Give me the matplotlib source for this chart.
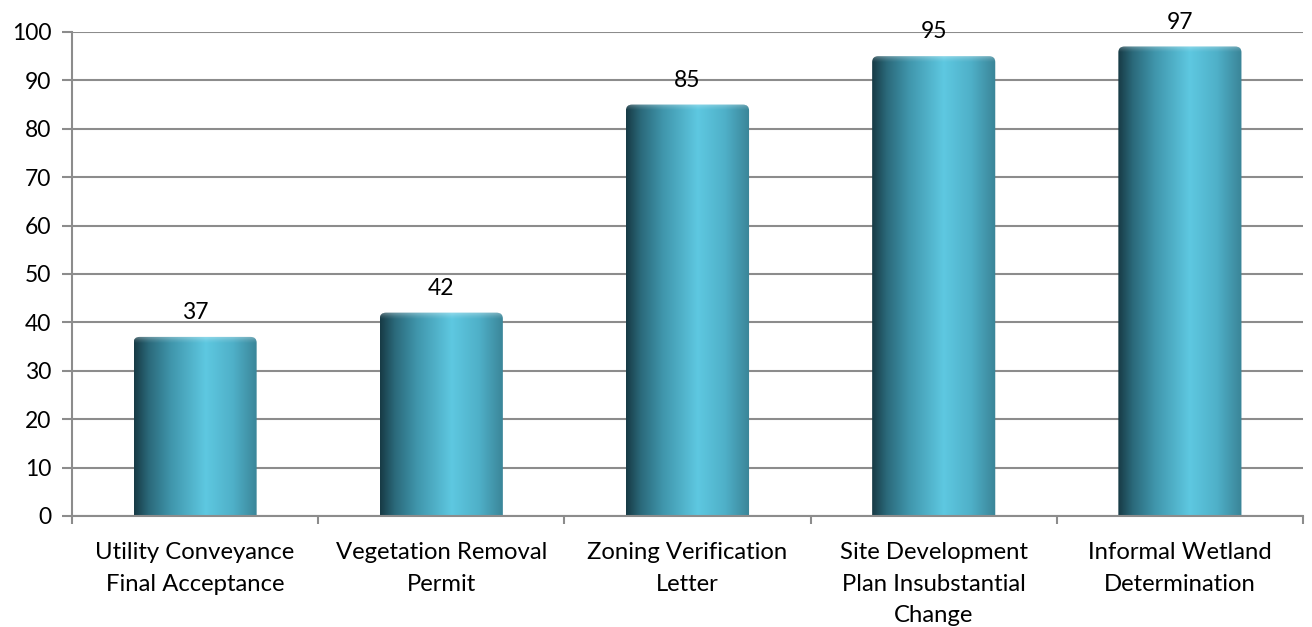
import numpy as np
import matplotlib
matplotlib.use("Agg")
import matplotlib.pyplot as plt
from matplotlib.colors import LinearSegmentedColormap
from matplotlib.patches import FancyBboxPatch

categories = ["Utility Conveyance\nFinal Acceptance", "Vegetation Removal\nPermit",
              "Zoning Verification\nLetter", "Site Development\nPlan Insubstantial\nChange",
              "Informal Wetland\nDetermination"]
values = [37, 42, 85, 95, 97]
yticks = [0, 10, 20, 30, 40, 50, 60, 70, 80, 90, 100]

plt.rcParams['font.family'] = ['Lato', 'DejaVu Sans']
W, H = 1312, 627
fig = plt.figure(figsize=(W / 100, H / 100), dpi=100)
ax = fig.add_axes([72 / W, (H - 516) / H, (1303 - 72) / W, (516 - 32) / H])

grid_c = '#8c8c8c'
x = np.arange(len(values))
ax.set_xlim(-0.5, len(values) - 0.5)
ax.set_ylim(0, 100)
ax.set_yticks(yticks)
ax.yaxis.grid(True, color=grid_c, linewidth=1.5)
ax.set_axisbelow(True)
for s in ['top', 'right']:
    ax.spines[s].set_visible(False)
for s in ['left', 'bottom']:
    ax.spines[s].set_color(grid_c)
    ax.spines[s].set_linewidth(1.5)
ax.tick_params(axis='y', colors=grid_c, length=7, width=1.5, labelsize=16.5, labelcolor='black', pad=8)
ax.set_xticks(np.arange(-0.5, len(values) + 0.5, 1))
ax.set_xticklabels([])
ax.tick_params(axis='x', colors=grid_c, length=6, width=1.5)
ax.set_xticks(x, minor=True)
ax.set_xticklabels(categories, minor=True, fontsize=17.2, linespacing=1.62)
ax.tick_params(axis='x', which='minor', length=0, pad=19, labelcolor='black')

cmap = LinearSegmentedColormap.from_list('cyl', [
    (0.0, '#173a45'), (0.12, '#2b6a7b'), (0.3, '#4096ac'), (0.58, '#5ec8e1'),
    (0.8, '#4fb0c8'), (1.0, '#3a8497')])
hl = LinearSegmentedColormap.from_list('hl', [(1, 1, 1, 0.0), (1, 1, 1, 0.12), (1, 1, 1, 0.3)])
grad = np.linspace(0, 1, 256).reshape(1, -1)
bw = 0.5
bars = ax.bar(x, values, width=bw, color='none', edgecolor='none')
for b, v in zip(bars, values):
    x0 = b.get_x()
    patch = FancyBboxPatch((x0, -3), bw, v + 3, boxstyle='round,pad=0,rounding_size=0.025',
                           mutation_aspect=1 / 0.025 * 1.2, facecolor='none', edgecolor='none',
                           transform=ax.transData)
    ax.add_patch(patch)
    im = ax.imshow(grad, cmap=cmap, aspect='auto', extent=[x0, x0 + bw, 0, v],
                   interpolation='bilinear', zorder=2)
    im.set_clip_path(patch)
    top = ax.imshow(np.linspace(0, 1, 64).reshape(-1, 1), cmap=hl, aspect='auto', origin='lower',
                    extent=[x0, x0 + bw, v - 1.2, v], interpolation='bilinear', zorder=3)
    top.set_clip_path(patch)
    ax.annotate(f'{v}', (b.get_x() + bw / 2, v), xytext=(0, 10), textcoords='offset points',
                ha='center', va='bottom', fontsize=16.5)

fig.savefig('out.png', dpi=100)
